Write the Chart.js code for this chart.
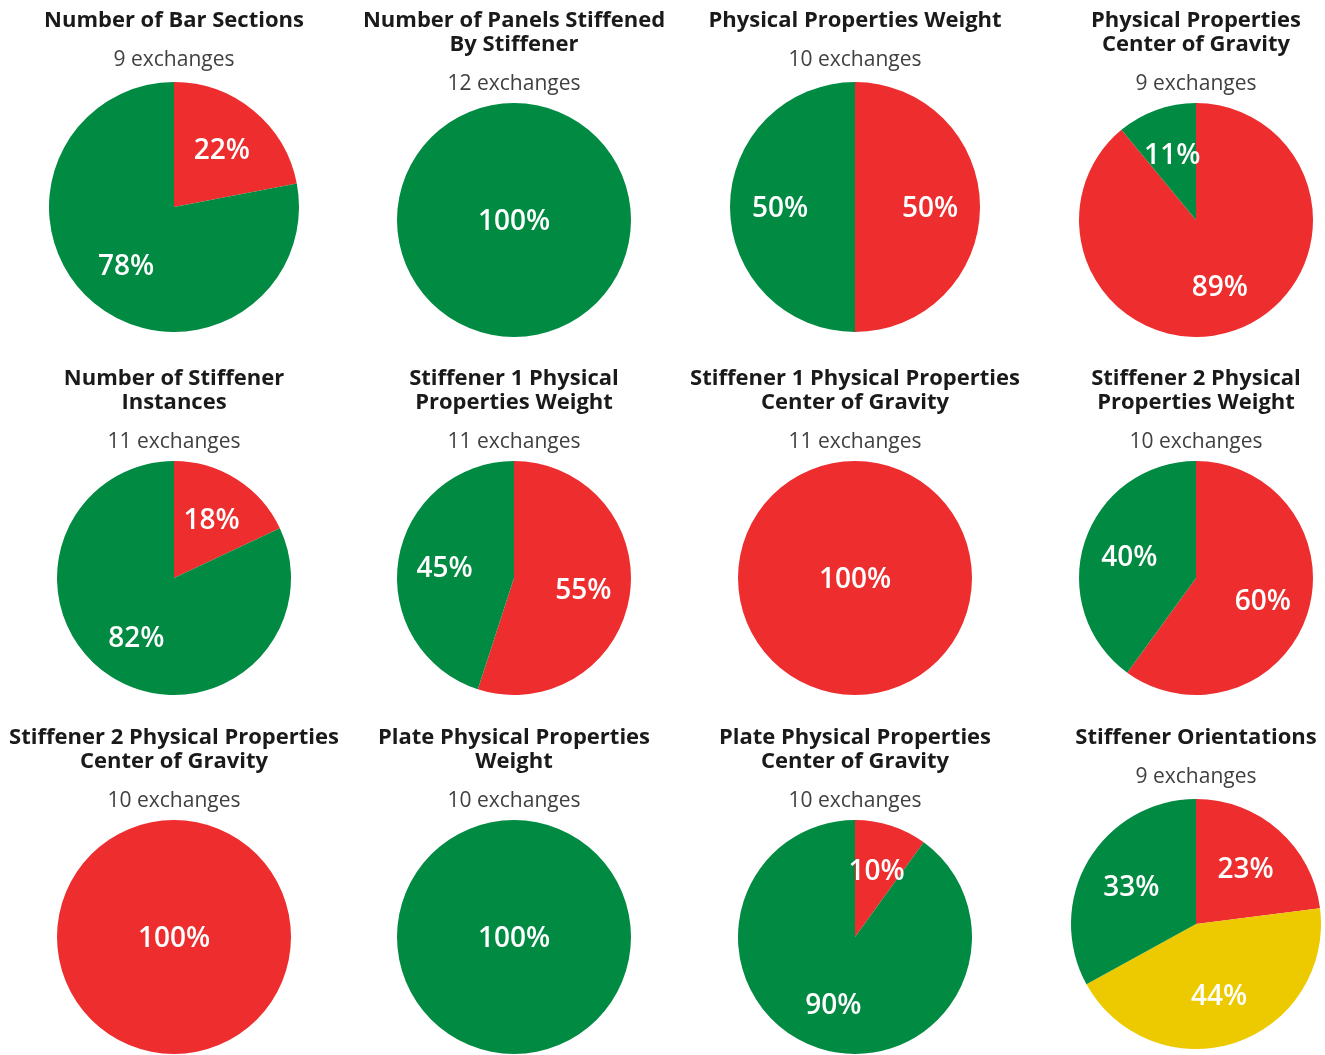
<!DOCTYPE html>
<html>
<head>
<meta charset="utf-8">
<script src="https://cdn.jsdelivr.net/npm/chart.js@4.4.1/dist/chart.umd.min.js"></script>
<style>
  html, body { margin: 0; padding: 0; background: #ffffff; overflow: hidden; }
  #wrap { position: relative; width: 1325px; height: 1055px; overflow: hidden; }
  .cell { position: absolute; width: 340px; height: 345px; }
  .cell canvas { display: block; }
</style>
</head>
<body>
<div id="wrap"></div>
<script>
// ---- Data ----
const titles = [
  ["Number of Bar Sections"],
  ["Number of Panels Stiffened", "By Stiffener"],
  ["Physical Properties Weight"],
  ["Physical Properties", "Center of Gravity"],
  ["Number of Stiffener", "Instances"],
  ["Stiffener 1 Physical", "Properties Weight"],
  ["Stiffener 1 Physical Properties", "Center of Gravity"],
  ["Stiffener 2 Physical", "Properties Weight"],
  ["Stiffener 2 Physical Properties", "Center of Gravity"],
  ["Plate Physical Properties", "Weight"],
  ["Plate Physical Properties", "Center of Gravity"],
  ["Stiffener Orientations"]
];
const exchanges = [9, 12, 10, 9, 11, 11, 11, 10, 10, 10, 10, 9];
const segmentNames = ["Red", "Yellow", "Green"];
const redPct    = [22, 0, 50, 89, 18, 55, 100, 60, 100, 0, 10, 23];
const yellowPct = [0, 0, 0, 0, 0, 0, 0, 0, 0, 0, 0, 44];
const greenPct  = [78, 100, 50, 11, 82, 45, 0, 40, 0, 100, 90, 33];

// ---- Styles ----
const COLORS = ["#ED2D2E", "#EDC900", "#008A42"];
const FONT = "'Open Sans', 'Noto Sans', sans-serif";

const pctLabels = {
  id: 'pctLabels',
  afterDatasetsDraw(chart) {
    const ctx = chart.ctx;
    const meta = chart.getDatasetMeta(0);
    const data = chart.data.datasets[0].data;
    ctx.save();
    ctx.fillStyle = '#ffffff';
    ctx.font = "600 28px " + FONT;
    ctx.textAlign = 'center';
    ctx.textBaseline = 'middle';
    meta.data.forEach((arc, i) => {
      const v = data[i];
      if (!v) return;
      const p = arc.getProps(['x', 'y', 'startAngle', 'endAngle', 'outerRadius']);
      let x = p.x, y = p.y;
      if (v < 100) {
        const mid = (p.startAngle + p.endAngle) / 2;
        const r = p.outerRadius * 0.6;
        x = p.x + Math.cos(mid) * r;
        y = p.y + Math.sin(mid) * r;
      }
      ctx.fillText(v + '%', x, y + 2);
    });
    ctx.restore();
  }
};

const wrap = document.getElementById('wrap');
const colLefts = [4, 344, 685, 1026];
const rowTops = [0, 358, 717];

titles.forEach((t, i) => {
  const cell = document.createElement('div');
  cell.className = 'cell';
  cell.style.left = colLefts[i % 4] + 'px';
  cell.style.top = rowTops[Math.floor(i / 4)] + 'px';
  const cv = document.createElement('canvas');
  cv.width = 340; cv.height = 345;
  cell.appendChild(cv);
  wrap.appendChild(cell);

  const oneLine = t.length === 1;
  new Chart(cv, {
    type: 'pie',
    data: {
      labels: segmentNames,
      datasets: [{
        data: [redPct[i], yellowPct[i], greenPct[i]],
        backgroundColor: COLORS,
        borderWidth: 0,
        hoverOffset: 0
      }]
    },
    options: {
      responsive: false,
      animation: false,
      events: [],
      layout: { padding: { top: 0, bottom: oneLine ? 13 : 8, left: 0, right: 0 } },
      plugins: {
        legend: { display: false },
        tooltip: { enabled: false },
        title: {
          display: true,
          text: t,
          color: '#1a1a1a',
          font: { family: FONT, size: 22, weight: 'bold', lineHeight: 24 / 22 },
          padding: { top: 9, bottom: 0 }
        },
        subtitle: {
          display: true,
          text: exchanges[i] + ' exchanges',
          color: '#404040',
          font: { family: FONT, size: 21, weight: 'normal', lineHeight: 24 / 21 },
          padding: { top: 15, bottom: oneLine ? 10 : 7 }
        }
      }
    },
    plugins: [pctLabels]
  });
});
</script>
</body>
</html>
